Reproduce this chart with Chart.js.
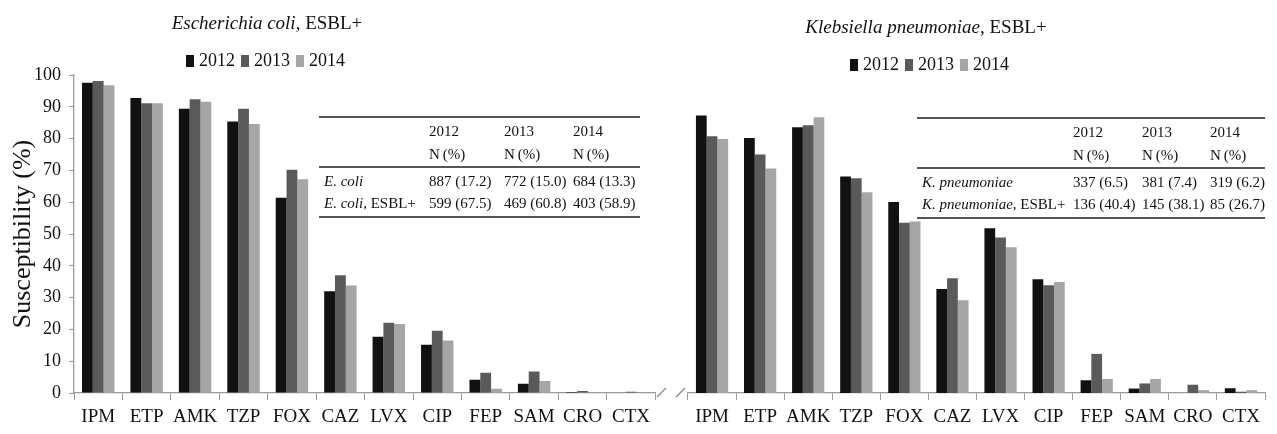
<!DOCTYPE html>
<html>
<head>
<meta charset="utf-8">
<script src="https://cdn.jsdelivr.net/npm/chart.js@4.4.1/dist/chart.umd.min.js"></script>
<style>
  html, body { margin: 0; padding: 0; background: #fff; }
  #wrap { position: relative; width: 1277px; height: 434px; overflow: hidden; font-family: "Liberation Serif", "Times New Roman", serif; color: #111; }
  canvas { position: absolute; top: 0; }
  .title { position: absolute; text-align: center; font-size: 19px; line-height: 26px; white-space: nowrap; }
  .legend-item { position: absolute; font-size: 18px; line-height: 20px; white-space: nowrap; }
  .legend-item span { display: inline-block; width: 8px; height: 12px; margin-right: 5px; vertical-align: -1px; }
  table.counts { position: absolute; border-collapse: collapse; font-size: 15px; white-space: nowrap; }
  table.counts td { padding: 0; line-height: 22px; vertical-align: top; }
  table.counts tr.head td { line-height: 23px; padding-top: 2px; border-top: 2px solid #555; border-bottom: 2px solid #555; }
  table.counts tr.first td { padding-top: 2px; }
  table.counts tr.last td { padding-bottom: 2px; border-bottom: 2px solid #555; }
</style>
</head>
<body>
<div id="wrap">
  <canvas id="chart-ecoli" width="656" height="434" style="left:0"></canvas>
  <canvas id="chart-kpn" width="621" height="434" style="left:656px"></canvas>

  <div class="title" style="left:0; width:534px; top:10px;"><i>Escherichia coli</i>, ESBL+</div>
  <div class="title" style="left:726px; width:400px; top:14px;"><i>Klebsiella pneumoniae</i>, ESBL+</div>
  <div id="legend-ecoli"></div>
  <div id="legend-kpn"></div>

  <table class="counts" id="table-ecoli" style="left:319px; top:116px; width:321px;"></table>
  <table class="counts" id="table-kpn" style="left:917px; top:117px; width:348px;"></table>
</div>

<script>
// Données
const DRUGS = ['IPM', 'ETP', 'AMK', 'TZP', 'FOX', 'CAZ', 'LVX', 'CIP', 'FEP', 'SAM', 'CRO', 'CTX'];
const YEARS = ['2012', '2013', '2014'];
const YEAR_COLORS = ['#111111', '#5a5a5a', '#a6a6a6'];
const Y_TICKS = [0, 10, 20, 30, 40, 50, 60, 70, 80, 90, 100];

// Escherichia coli, ESBL+ (susceptibility %)
const ECOLI_2012 = [97.6, 92.8, 89.4, 85.4, 61.4, 32.0, 17.7, 15.2, 4.2, 2.9, 0.3, 0];
const ECOLI_2013 = [98.1, 91.1, 92.4, 89.4, 70.2, 37.0, 22.1, 19.6, 6.4, 6.8, 0.6, 0.4];
const ECOLI_2014 = [96.8, 91.1, 91.6, 84.6, 67.2, 33.8, 21.7, 16.5, 1.3, 3.8, 0, 0];

// Klebsiella pneumoniae, ESBL+ (susceptibility %)
const KPN_2012 = [87.3, 80.2, 83.6, 68.1, 60.1, 32.7, 51.8, 35.8, 4.0, 1.4, 0, 1.5];
const KPN_2013 = [80.7, 75.0, 84.2, 67.5, 53.5, 36.1, 48.9, 33.9, 12.3, 3.0, 2.6, 0.4];
const KPN_2014 = [79.9, 70.6, 86.7, 63.1, 53.9, 29.2, 45.8, 34.9, 4.4, 4.4, 0.9, 0.9];

// Tableaux insérés
const ECOLI_ROWS = [
    ['<i>E. coli</i>', '887 (17.2)', '772 (15.0)', '684 (13.3)'],
    ['<i>E. coli</i>, ESBL+', '599 (67.5)', '469 (60.8)', '403 (58.9)']
];
const KPN_ROWS = [
    ['<i>K. pneumoniae</i>', '337 (6.5)', '381 (7.4)', '319 (6.2)'],
    ['<i>K. pneumoniae</i>, ESBL+', '136 (40.4)', '145 (38.1)', '85 (26.7)']
];

const SERIF = "'Liberation Serif', 'Times New Roman', serif";
const AXIS_GREY = '#9a9a9a';

function makeDatasets(values) {
    return YEARS.map((year, i) => ({
        label: year,
        data: values[i],
        backgroundColor: YEAR_COLORS[i],
        borderWidth: 0,
        categoryPercentage: 0.67,
        barPercentage: 1.0
    }));
}

// Les deux traits obliques de la coupure d'axe
const axisBreak = {
    id: 'axisBreak',
    afterDraw(chart) {
        const ctx = chart.ctx;
        ctx.save();
        ctx.strokeStyle = '#888';
        ctx.lineWidth = 1.3;
        ctx.beginPath();
        ctx.moveTo(1, 397); ctx.lineTo(10, 388);
        ctx.moveTo(20, 397); ctx.lineTo(29, 388);
        ctx.stroke();
        ctx.restore();
    }
};

function buildChart(canvasId, values, showY, padding, plugins) {
    const ctx = document.getElementById(canvasId).getContext('2d');
    return new Chart(ctx, {
        type: 'bar',
        data: { labels: DRUGS, datasets: makeDatasets(values) },
        options: {
            responsive: false,
            animation: false,
            layout: { padding: padding },
            plugins: { legend: { display: false }, tooltip: { enabled: false } },
            scales: {
                x: {
                    grid: { offset: true, drawOnChartArea: false, drawTicks: true, tickLength: 7, color: AXIS_GREY },
                    border: { display: true, color: AXIS_GREY, width: 1.3 },
                    ticks: { color: '#111', font: { family: SERIF, size: 19 }, padding: 6, maxRotation: 0, autoSkip: false },
                    afterFit: s => { s.height = 41; }
                },
                y: {
                    display: showY,
                    min: 0,
                    max: 100,
                    afterBuildTicks: s => { s.ticks = Y_TICKS.map(v => ({ value: v })); },
                    grid: { drawOnChartArea: false, drawTicks: true, tickLength: 5, color: AXIS_GREY },
                    border: { display: true, color: AXIS_GREY, width: 1.3 },
                    ticks: { color: '#111', font: { family: SERIF, size: 18 }, padding: 8 },
                    title: {
                        display: true,
                        text: 'Susceptibility (%)',
                        color: '#111',
                        font: { family: SERIF, size: 26 },
                        padding: 0
                    },
                    // largeur fixe seulement quand l'axe est affiché
                    afterFit: s => { s.width = showY ? 66 : 0; }
                }
            }
        },
        plugins: plugins
    });
}

function renderLegend(id, left, centerY) {
    const box = document.getElementById(id);
    box.innerHTML = '';
    YEARS.forEach((year, i) => {
        const item = document.createElement('div');
        item.className = 'legend-item';
        item.style.left = (left + i * 55) + 'px';
        item.style.top = (centerY - 10) + 'px';
        item.innerHTML = `<span style="background:${YEAR_COLORS[i]}"></span>${year}`;
        box.appendChild(item);
    });
}

function renderTable(id, rows, labelWidth, colWidths) {
    const table = document.getElementById(id);
    let html = `<tr class="head"><td style="width:${labelWidth}px"></td>`;
    YEARS.forEach((year, i) => {
        html += `<td style="width:${colWidths[i]}px">${year}<br>N&#8201;(%)</td>`;
    });
    html += '</tr>';
    rows.forEach((row, r) => {
        const cls = r === 0 ? 'first' : 'last';
        html += `<tr class="${cls}"><td style="padding-left:5px">${row[0]}</td>`;
        row.slice(1).forEach(cell => { html += `<td>${cell}</td>`; });
        html += '</tr>';
    });
    table.innerHTML = html;
}

buildChart('chart-ecoli', [ECOLI_2012, ECOLI_2013, ECOLI_2014], true,
    { left: 8, right: 0, top: 75, bottom: 0 }, []);
buildChart('chart-kpn', [KPN_2012, KPN_2013, KPN_2014], false,
    { left: 32, right: 12, top: 75, bottom: 0 }, [axisBreak]);

renderLegend('legend-ecoli', 186, 60);
renderLegend('legend-kpn', 850, 64);
renderTable('table-ecoli', ECOLI_ROWS, 110, [75, 69, 67]);
renderTable('table-kpn', KPN_ROWS, 156, [69, 68, 55]);
</script>
</body>
</html>
